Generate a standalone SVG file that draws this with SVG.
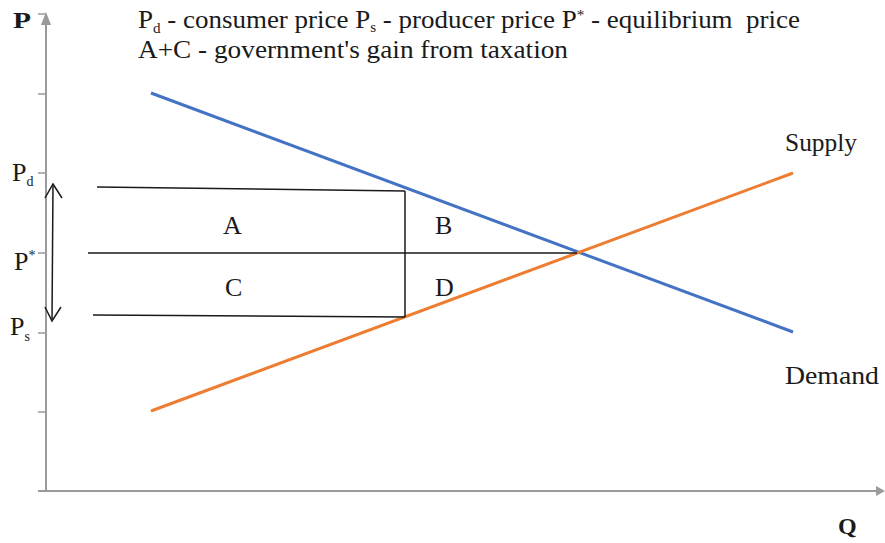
<svg xmlns="http://www.w3.org/2000/svg" width="885" height="543" viewBox="0 0 885 543">
<style>
text{font-family:"Liberation Serif","Times New Roman",serif;fill:#1a1a1a}
.lbl{font-size:26px}
.hdr{font-size:25px}
.sub{font-size:14px}
.axis{stroke:#9a9a9a;stroke-width:2;fill:none}
.blk{stroke:#1a1a1a;stroke-width:1.5;fill:none}
.bold{font-size:24px;font-weight:bold}
</style>
<g id="axes">
<line class="axis" x1="46" y1="20" x2="46" y2="491"/>
<line class="axis" x1="38" y1="491" x2="878" y2="491"/>
<polygon points="46,12 41,25 51,25" fill="#9a9a9a"/>
<polygon points="885,491 876,486 876,496" fill="#9a9a9a"/>
<g class="axis" style="stroke-width:1.5">
<line x1="38" y1="14" x2="46" y2="14"/>
<line x1="38" y1="94" x2="46" y2="94"/>
<line x1="38" y1="173" x2="46" y2="173"/>
<line x1="38" y1="253" x2="46" y2="253"/>
<line x1="38" y1="333" x2="46" y2="333"/>
<line x1="38" y1="412" x2="46" y2="412"/>
</g>
<text class="bold" x="13" y="28" textLength="18" lengthAdjust="spacingAndGlyphs">P</text>
<text class="bold" x="838" y="534">Q</text>
</g>
<g id="legend">
<text class="hdr" x="138" y="28" textLength="662" lengthAdjust="spacingAndGlyphs">P<tspan class="sub" dy="5">d</tspan><tspan dy="-5"> - consumer price P</tspan><tspan class="sub" dy="4">s</tspan><tspan dy="-4"> - producer price P</tspan><tspan class="sub" dy="-8">*</tspan><tspan dy="8"> - equilibrium&#160; price</tspan></text>
<text class="hdr" x="138" y="58" textLength="430" lengthAdjust="spacingAndGlyphs">A+C - government's gain from taxation</text>
</g>
<g id="price-labels">
<text class="lbl" x="12" y="181">P<tspan class="sub" dy="5">d</tspan></text>
<text class="lbl" x="14" y="270">P<tspan class="sub" dy="-10">*</tspan></text>
<text class="lbl" x="10" y="335">P<tspan class="sub" dy="6">s</tspan></text>
</g>
<g id="demand">
<line x1="151" y1="93" x2="793" y2="332" stroke="#4472c4" stroke-width="3"/>
<text class="lbl" x="785" y="384" textLength="94" lengthAdjust="spacingAndGlyphs">Demand</text>
</g>
<g id="supply">
<line x1="151" y1="411" x2="793" y2="173" stroke="#ed7d31" stroke-width="3"/>
<text class="lbl" x="785" y="151" textLength="72" lengthAdjust="spacingAndGlyphs">Supply</text>
</g>
<g id="connectors">
<line class="blk" x1="97" y1="187" x2="405" y2="191"/>
<line class="blk" x1="88" y1="253" x2="577" y2="253"/>
<line class="blk" x1="93" y1="315" x2="405" y2="317"/>
<line class="blk" x1="405" y1="191" x2="405" y2="317"/>
<line class="blk" x1="53" y1="184" x2="52" y2="321"/>
<polyline class="blk" points="45,198 53,184 62,198"/>
<polyline class="blk" points="45,307 52,321 61,307"/>
</g>
<g id="areas">
<text class="lbl" x="223" y="234">A</text>
<text class="lbl" x="435" y="234">B</text>
<text class="lbl" x="225" y="296">C</text>
<text class="lbl" x="435" y="296">D</text>
</g>
</svg>
